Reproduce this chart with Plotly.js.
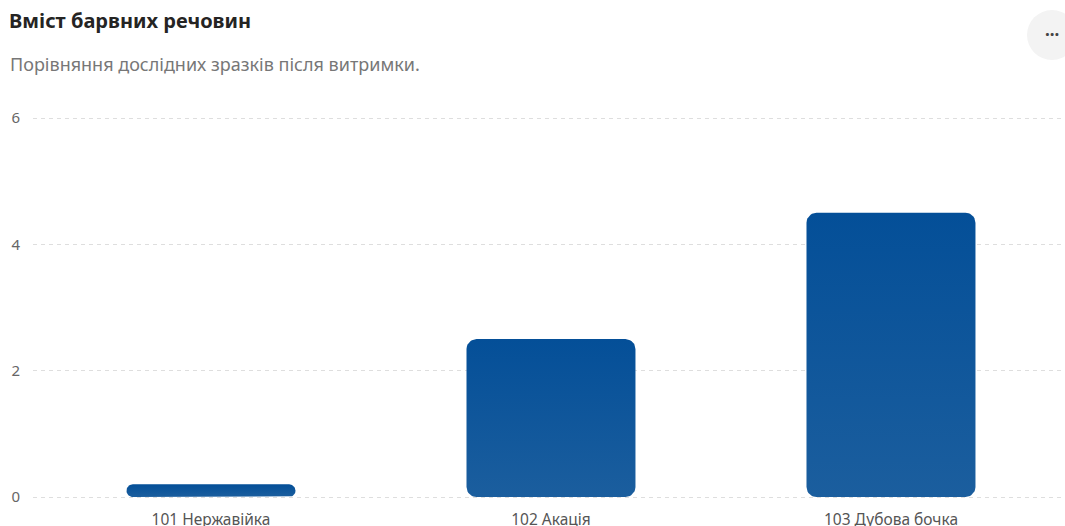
<!DOCTYPE html>
<html>
<head>
<meta charset="utf-8">
<script src="https://cdn.plot.ly/plotly-3.0.1.min.js"></script>
<style>html,body{margin:0;padding:0;background:#fff;}#chart{width:1065px;height:526px;}</style>
</head>
<body>
<div id="chart"></div>
<script>
const categories = ['101 Нержавійка', '102 Акація', '103 Дубова бочка'];
const values = [0.2, 2.5, 4.5];
const yTickVals = [0, 2, 4, 6];
const yTickText = ['0', '2', '4', '6'];

const titleText = 'Вміст барвних речовин';
const subtitleText = 'Порівняння дослідних зразків після витримки.';

// per-bar vertical gradient: lighter at the bottom, darker at the top
const barBottomColor = 'rgb(27,94,158)';
const barTopColor = 'rgb(4,79,152)';

const W = 1065, H = 526;
const plotL = 33, plotR = 1062, plotT = 116, plotB = 499;
const zeroPx = 497, sixPx = 118;
const pxPerUnit = (zeroPx - sixPx) / 6;
const yLo = -(plotB - zeroPx) / pxPerUnit, yHi = 6 + (sixPx - plotT) / pxPerUnit;
const xLo = -0.5235, xHi = 2.503;
const pxPerCat = (plotR - plotL) / (xHi - xLo);
const pw = plotR - plotL, ph = plotB - plotT;
const px = v => (v - plotL) / pw;
const py = v => (plotB - v) / ph;

const barWidth = 0.497;      // in category units
const cornerPx = 10;         // corner radius in pixels

// outline of a rounded bar, in data units, from a category index and a value
function roundedBar(i, v) {
  const hw = barWidth / 2;
  const rPx = Math.min(cornerPx, (v * pxPerUnit) / 2, hw * pxPerCat);
  const rx = rPx / pxPerCat, ry = rPx / pxPerUnit;
  const corners = [
    [i + hw - rx, v - ry, 0, 90],
    [i - hw + rx, v - ry, 90, 180],
    [i - hw + rx, 0 + ry, 180, 270],
    [i + hw - rx, 0 + ry, 270, 360]
  ];
  const xs = [], ys = [];
  const steps = 10;
  corners.forEach(([cx, cy, a0, a1]) => {
    for (let s = 0; s <= steps; s++) {
      const a = (a0 + (a1 - a0) * s / steps) * Math.PI / 180;
      xs.push(cx + rx * Math.cos(a));
      ys.push(cy + ry * Math.sin(a));
    }
  });
  xs.push(xs[0]); ys.push(ys[0]);
  return {xs, ys};
}

const traces = values.map((v, i) => {
  const o = roundedBar(i, v);
  return {
    type: 'scatter', mode: 'lines', x: o.xs, y: o.ys,
    fill: 'toself',
    fillgradient: {type: 'vertical', colorscale: [[0, barBottomColor], [1, barTopColor]]},
    line: {width: 0, color: 'rgba(0,0,0,0)'},
    hoverinfo: 'skip', showlegend: false, name: categories[i]
  };
});

const layout = {
  width: W, height: H,
  paper_bgcolor: '#ffffff', plot_bgcolor: '#ffffff',
  margin: {l: plotL, r: W - plotR, t: plotT, b: H - plotB, pad: 0},
  font: {family: '"Noto Sans", "DejaVu Sans", sans-serif', color: '#666666', size: 15},
  title: {
    text: '<b>' + titleText + '</b>',
    font: {size: 20, color: '#252423', family: '"Noto Sans", sans-serif'},
    xref: 'container', yref: 'container', x: 9 / W, y: 1 - 21 / H,
    xanchor: 'left', yanchor: 'middle'
  },
  xaxis: {
    range: [xLo, xHi], tickvals: categories.map((c, i) => i), ticktext: categories,
    fixedrange: true, showgrid: false, zeroline: false, showline: false, ticks: '',
    tickfont: {size: 15.5, color: '#555555'}, ticklabelstandoff: 9
  },
  yaxis: {
    range: [yLo, yHi], tickvals: yTickVals, ticktext: yTickText, fixedrange: true,
    showgrid: true, gridcolor: '#dedede', gridwidth: 1, griddash: '4px,4px',
    zeroline: false, showline: false, ticks: '',
    tickfont: {size: 15, color: '#666666'}, ticklabelstandoff: 12
  },
  shapes: [{
    type: 'circle', xref: 'paper', yref: 'paper', layer: 'above',
    x0: px(1027), x1: px(1077), y0: py(60), y1: py(10),
    fillcolor: '#f3f3f3', line: {width: 0}
  }],
  annotations: [{
    text: subtitleText, xref: 'paper', yref: 'paper',
    x: px(8), y: py(64), xanchor: 'left', yanchor: 'middle', showarrow: false,
    font: {size: 18, color: '#777777'}
  }, {
    text: '<b>···</b>', xref: 'paper', yref: 'paper',
    x: px(1052), y: py(35), xanchor: 'center', yanchor: 'middle', showarrow: false,
    font: {size: 17, color: '#444444'}
  }]
};

Plotly.newPlot('chart', traces, layout, {displayModeBar: false, staticPlot: true});
</script>
</body>
</html>
